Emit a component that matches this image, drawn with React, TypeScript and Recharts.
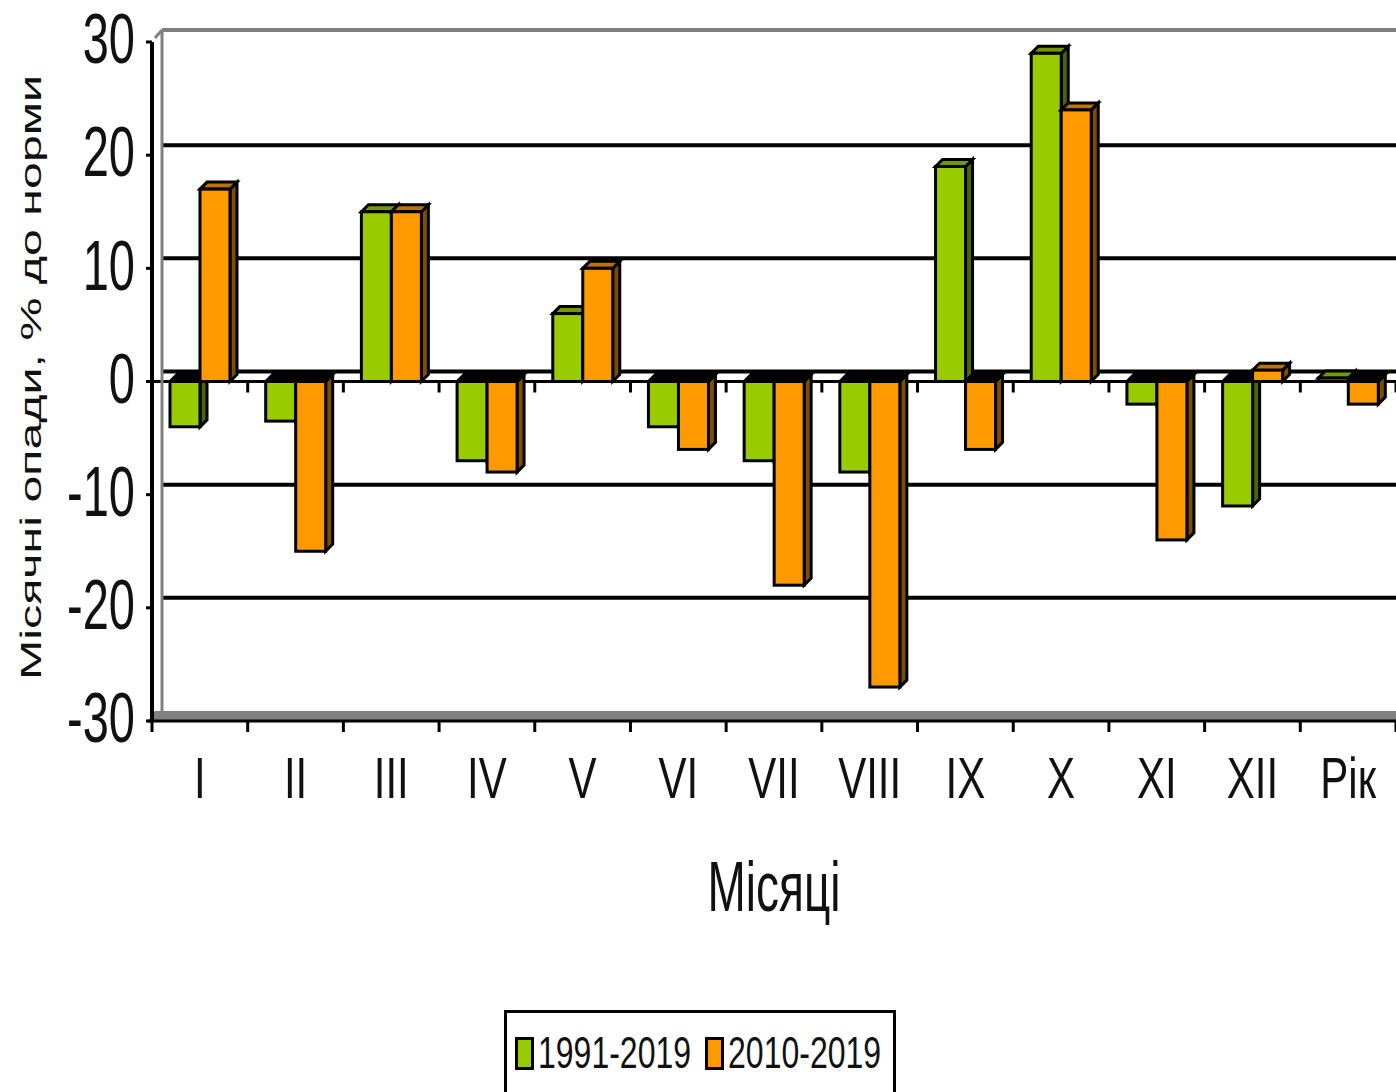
import React from 'react';
import { BarChart, Bar, XAxis, YAxis, CartesianGrid, Legend } from 'recharts';

const months = ['I', 'II', 'III', 'IV', 'V', 'VI', 'VII', 'VIII', 'IX', 'X', 'XI', 'XII', 'Рік'];
const series1991 = [-4, -3.5, 15, -7, 6, -4, -7, -8, 19, 29, -2, -11, 0.3];
const series2010 = [17, -15, 15, -8, 10, -6, -18, -27, -6, 24, -14, 1, -2];
const yTicks = [-30, -20, -10, 0, 10, 20, 30];

const seriesNames = { a: '1991-2019', b: '2010-2019' };
const yAxisTitle = 'Місячні опади, % до норми';
const xAxisTitle = 'Місяці';

const data = months.map((m, i) => ({ month: m, a: series1991[i], b: series2010[i] }));

const FONT = '"Liberation Sans", Arial, sans-serif';
const TEXT = '#111';
const DEPTH = 7;
const BACK = 10;
const CHART_W = 1396;
const CHART_H = 1092;
const MARGIN = { top: 42, right: 0, left: 20, bottom: 221 };
const PLOT_TOP = MARGIN.top;
const PLOT_H = 679;

const palette = {
  a: { front: '#99cc00', top: '#739900', side: '#4d6600' },
  b: { front: '#ff9900', top: '#bf7300', side: '#7f4c00' },
};

function make3DBar(key: 'a' | 'b') {
  const c = palette[key];
  return (props: any) => {
    const { x, y, width, height, payload } = props;
    if (x == null || y == null) return <g />;
    const v = payload ? payload[key] : 0;
    const yTop = Math.min(y, y + height);
    const yBot = Math.max(y, y + height);
    const d = DEPTH;
    const neg = v < 0;
    const sw = 3;
    return (
      <g>
        <polygon
          points={`${x + width},${yTop} ${x + width + d},${yTop - d} ${x + width + d},${yBot - d} ${x + width},${yBot}`}
          fill={c.side}
          stroke="#000"
          strokeWidth={sw}
        />
        <polygon
          points={`${x},${yTop} ${x + d},${yTop - d} ${x + width + d},${yTop - d} ${x + width},${yTop}`}
          fill={neg ? '#000' : c.top}
          stroke="#000"
          strokeWidth={sw}
        />
        <rect x={x} y={yTop} width={width} height={yBot - yTop} fill={c.front} stroke="#000" strokeWidth={sw} />
      </g>
    );
  };
}

const boundaryTicks = (x1: number, w: number, y1: number, from: number, len: number, prefix: string) =>
  months.concat(['']).map((_, i) =>
    i >= from ? (
      <line
        key={`${prefix}-${i}`}
        x1={x1 + (i * w) / months.length}
        y1={y1}
        x2={x1 + (i * w) / months.length}
        y2={y1 + len}
        stroke="#000"
        strokeWidth={3}
      />
    ) : null
  );

const renderGridLine = (p: any) => {
  const { x1, x2, y1, index } = p;
  const top = typeof p.y === 'number' ? p.y : PLOT_TOP;
  const h = typeof p.height === 'number' ? p.height : PLOT_H;
  const w = x2 - x1;
  const k = `gl-${index}`;
  if (Math.abs(y1 - top) < 1) {
    return (
      <g key={k}>
        <line x1={x1 + BACK} y1={y1 - 12} x2={x2} y2={y1 - 12} stroke="#808080" strokeWidth={4} />
        <line x1={x1 + BACK} y1={y1 - 12} x2={x1 + BACK} y2={top + h - BACK} stroke="#808080" strokeWidth={3} />
        <line x1={x1 + 3} y1={y1 - 4} x2={x1 + BACK} y2={y1 - 12} stroke="#808080" strokeWidth={3} />
      </g>
    );
  }
  if (Math.abs(y1 - (top + h)) < 1) {
    return (
      <g key={k}>
        <rect x={x1} y={y1 - BACK} width={w} height={BACK - 1} fill="#808080" />
        <line x1={x1 - 4} y1={y1} x2={x2} y2={y1} stroke="#000" strokeWidth={3} />
        {boundaryTicks(x1, w, y1, 0, 11, 'bt')}
      </g>
    );
  }
  const isZero = Math.abs(y1 - (top + h / 2)) < 1;
  return (
    <g key={k}>
      <line x1={x1 + BACK} y1={y1 - BACK} x2={x2} y2={y1 - BACK} stroke="#000" strokeWidth={4} />
      {isZero && (
        <g>
          <line x1={x1} y1={y1} x2={x2} y2={y1} stroke="#000" strokeWidth={3} />
          {boundaryTicks(x1, w, y1, 1, 11, 'zt')}
        </g>
      )}
    </g>
  );
};

const YTick = (p: any) => (
  <g transform={`translate(${p.x},${p.y - 4}) scale(1,1.48)`}>
    <text x={0} y={17} textAnchor="end" fontSize={47} fontFamily={FONT} fill={TEXT}>
      {p.payload.value}
    </text>
  </g>
);

const XTick = (p: any) => (
  <g transform={`translate(${p.x},${p.y + 77}) scale(1,1.37)`}>
    <text x={0} y={0} textAnchor="middle" fontSize={42} fontFamily={FONT} fill={TEXT}>
      {p.payload.value}
    </text>
  </g>
);

const XTitle = (p: any) => {
  const vb = p.viewBox || { x: 152, y: 721, width: 1244, height: 150 };
  return (
    <g transform={`translate(${vb.x + vb.width / 2},${vb.y + 190}) scale(1,1.55)`}>
      <text x={0} y={0} textAnchor="middle" fontSize={46} fontFamily={FONT} fill={TEXT}>
        {xAxisTitle}
      </text>
    </g>
  );
};

const YTitle = (p: any) => {
  const vb = p.viewBox || { x: 20, y: 42, width: 132, height: 679 };
  return (
    <text
      transform={`translate(${vb.x + 21},${vb.y + vb.height / 2 - 4}) rotate(-90)`}
      textAnchor="middle"
      fontSize={30}
      textLength={605}
      lengthAdjust="spacingAndGlyphs"
      fontFamily={FONT}
      fill={TEXT}
    >
      {yAxisTitle}
    </text>
  );
};

const renderLegend = (props: any) => {
  const payload = props.payload || [];
  return (
    <div
      style={{
        width: 392,
        height: 86,
        boxSizing: 'border-box',
        border: '3px solid #000',
        background: '#fff',
        display: 'flex',
        alignItems: 'center',
        paddingLeft: 8,
        whiteSpace: 'nowrap',
        overflow: 'hidden',
      }}
    >
      {payload.map((item: any, i: number) => (
        <div key={i} style={{ display: 'flex', alignItems: 'center', marginRight: 14, flexShrink: 0 }}>
          <span
            style={{
              display: 'inline-block',
              width: 13,
              height: 27,
              border: '3px solid #000',
              background: item.color,
              marginRight: 4,
              flexShrink: 0,
            }}
          />
          <span
            style={{
              display: 'inline-block',
              whiteSpace: 'nowrap',
              flexShrink: 0,
              fontFamily: FONT,
              fontSize: 32,
              lineHeight: '32px',
              color: TEXT,
              transform: 'scaleY(1.4)',
            }}
          >
            {item.value}
          </span>
        </div>
      ))}
    </div>
  );
};

export default function App() {
  return (
    <div style={{ position: 'absolute', left: 0, top: 0, width: CHART_W, height: CHART_H, background: '#fff' }}>
      <BarChart width={CHART_W} height={CHART_H} data={data} margin={MARGIN} barGap={0} barSize={30}>
        <CartesianGrid vertical={false} horizontal={renderGridLine} />
        <XAxis
          dataKey="month"
          height={150}
          axisLine={false}
          tickLine={false}
          tickSize={0}
          tickMargin={0}
          interval={0}
          tick={XTick}
          label={{ content: XTitle }}
        />
        <YAxis
          domain={[-30, 30]}
          ticks={yTicks}
          allowDataOverflow
          interval={0}
          width={132}
          tickSize={6}
          tickMargin={11}
          axisLine={{ stroke: '#000', strokeWidth: 4 }}
          tickLine={{ stroke: '#000', strokeWidth: 3 }}
          tick={YTick}
          label={{ content: YTitle }}
        />
        <Legend
          layout="horizontal"
          verticalAlign="middle"
          align="center"
          wrapperStyle={{ top: 1010, left: 504, width: 392, height: 86 }}
          content={renderLegend}
        />
        <Bar dataKey="a" name={seriesNames.a} fill={palette.a.front} isAnimationActive={false} shape={make3DBar('a')} />
        <Bar dataKey="b" name={seriesNames.b} fill={palette.b.front} isAnimationActive={false} shape={make3DBar('b')} />
      </BarChart>
    </div>
  );
}
